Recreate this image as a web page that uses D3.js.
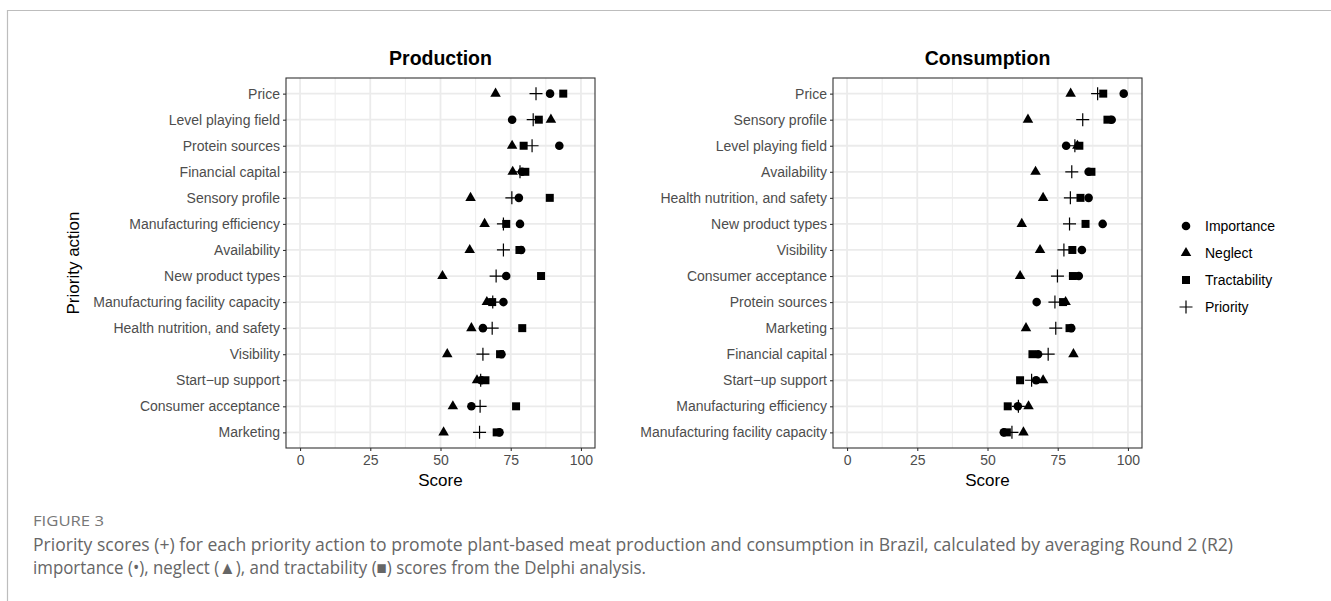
<!DOCTYPE html>
<html>
<head>
<meta charset="utf-8">
<script src="https://cdn.jsdelivr.net/npm/d3@7"></script>
<style>
  body { margin: 0; background: #fff; }
  svg { display: block; }
</style>
</head>
<body>
<div id="wrapper"></div>
<script>
// categories, top to bottom as in the figure
const prodActions = ['Price', 'Level playing field', 'Protein sources', 'Financial capital',
    'Sensory profile', 'Manufacturing efficiency', 'Availability', 'New product types',
    'Manufacturing facility capacity', 'Health nutrition, and safety', 'Visibility',
    'Start\u2212up support', 'Consumer acceptance', 'Marketing']
const prodImportance   = [89, 75.5, 92.3, 79, 77.9, 78.3, 78.7, 73.4, 72.4, 65.1, 71.7, 64.5, 61, 71]
const prodNeglect      = [69.6, 89.3, 75.5, 75.7, 60.7, 65.7, 60.4, 50.7, 66.5, 61, 52.4, 63, 54.4, 51.1]
const prodTractability = [93.7, 85, 79.6, 80.2, 88.9, 73.4, 78.1, 85.8, 68.4, 79.1, 71.2, 66, 76.9, 70]
const prodPriority     = [84, 83, 82.6, 78.3, 75.4, 72.4, 72.4, 69.8, 68.6, 68.4, 65.1, 64.3, 64.1, 63.9]

const consActions = ['Price', 'Sensory profile', 'Level playing field', 'Availability',
    'Health nutrition, and safety', 'New product types', 'Visibility', 'Consumer acceptance',
    'Protein sources', 'Marketing', 'Financial capital', 'Start\u2212up support',
    'Manufacturing efficiency', 'Manufacturing facility capacity']
const consImportance   = [98.5, 94.2, 78, 86, 86, 91, 83.6, 82.5, 67.5, 79.8, 68, 67.3, 60.8, 55.8]
const consNeglect      = [79.6, 64.4, 82, 67.1, 69.8, 62.2, 68.7, 61.6, 77.8, 63.7, 80.6, 69.8, 64.6, 62.8]
const consTractability = [91.2, 92.7, 82.7, 87, 83.1, 84.9, 80.2, 80.4, 76.9, 79.2, 66, 61.6, 57.2, 56.9]
const consPriority     = [89.2, 83.9, 81.1, 80, 79.5, 79.2, 77.2, 74.9, 74, 74.3, 71.6, 65.7, 61, 58.7]

const xTicks = [0, 25, 50, 75, 100]
const xMinor = [12.5, 37.5, 62.5, 87.5]
const seriesNames = ['Importance', 'Neglect', 'Tractability', 'Priority']

const width = 1331
const height = 601
const panel = { top: 78, width: 309, height: 370 }

const svg = d3.select('#wrapper').append('svg')
    .attr('width', width)
    .attr('height', height)
    .style('font-family', '"Liberation Sans", Arial, Helvetica, sans-serif')

// outer figure frame (top and left rules)
svg.append('line')
    .attr('x1', 7).attr('x2', width).attr('y1', 10.5).attr('y2', 10.5)
    .attr('stroke', '#bdbdbd').attr('stroke-width', 1.2)
svg.append('line')
    .attr('x1', 7.5).attr('x2', 7.5).attr('y1', 10).attr('y2', height)
    .attr('stroke', '#bdbdbd').attr('stroke-width', 1.2)

// symbol path for each series
const symbolPath = (name) => {
    if (name === 'Importance') return d3.symbol(d3.symbolCircle, 58)()
    if (name === 'Neglect') return d3.symbol(d3.symbolTriangle, 48)()
    if (name === 'Tractability') return d3.symbol(d3.symbolSquare, 64)()
    return 'M-6.5,0H6.5M0,-6.5V6.5'
}

function drawPanel (left, title, actions, series) {
    const xScale = d3.scaleLinear()
        .domain([-5, 105])
        .range([0, panel.width])
    const yScale = d3.scalePoint()
        .domain(actions)
        .range([0, panel.height])
        .padding(0.6)

    const bounds = svg.append('g')
        .attr('transform', `translate(${left}, ${panel.top})`)

    // minor vertical gridlines
    bounds.append('g')
        .selectAll('line')
        .data(xMinor)
        .join('line')
        .attr('x1', d => xScale(d)).attr('x2', d => xScale(d))
        .attr('y1', 0).attr('y2', panel.height)
        .attr('stroke', '#ebebeb').attr('stroke-width', 0.9)

    // major vertical gridlines
    bounds.append('g')
        .selectAll('line')
        .data(xTicks)
        .join('line')
        .attr('x1', d => xScale(d)).attr('x2', d => xScale(d))
        .attr('y1', 0).attr('y2', panel.height)
        .attr('stroke', '#ebebeb').attr('stroke-width', 1.8)

    // horizontal gridlines
    bounds.append('g')
        .selectAll('line')
        .data(actions)
        .join('line')
        .attr('x1', 0).attr('x2', panel.width)
        .attr('y1', d => yScale(d)).attr('y2', d => yScale(d))
        .attr('stroke', '#ebebeb').attr('stroke-width', 1.8)

    // points
    seriesNames.forEach((name, i) => {
        const values = series[i]
        const pts = bounds.append('g')
            .selectAll('path')
            .data(actions.map((a, j) => ({ action: a, value: values[j] })))
            .join('path')
            .attr('d', symbolPath(name))
            .attr('transform', d => `translate(${xScale(d.value)}, ${yScale(d.action)})`)
        if (name === 'Priority') {
            pts.attr('fill', 'none').attr('stroke', '#000').attr('stroke-width', 1.2)
        } else {
            pts.attr('fill', '#000')
        }
    })

    // panel border
    bounds.append('rect')
        .attr('x', 0).attr('y', 0)
        .attr('width', panel.width).attr('height', panel.height)
        .attr('fill', 'none')
        .attr('stroke', '#333').attr('stroke-width', 1.1)

    const xAxis = bounds.append('g')
        .attr('transform', `translate(0, ${panel.height})`)
        .call(d3.axisBottom(xScale).tickValues(xTicks).tickSize(3).tickPadding(3))
    const yAxis = bounds.append('g')
        .call(d3.axisLeft(yScale).tickSize(3).tickPadding(3))

    ;[xAxis, yAxis].forEach(ax => {
        ax.select('.domain').remove()
        ax.selectAll('.tick line').attr('stroke', '#333').attr('stroke-width', 1.1)
        ax.selectAll('.tick text')
            .attr('fill', '#4d4d4d')
            .style('font-size', '14px')
            .style('font-family', '"Liberation Sans", Arial, sans-serif')
    })
    xAxis.selectAll('.tick text').attr('dy', '0.8em')

    // title
    svg.append('text')
        .attr('x', left + panel.width / 2)
        .attr('y', 65)
        .attr('text-anchor', 'middle')
        .style('font-size', '19.5px')
        .style('font-weight', 'bold')
        .attr('fill', '#000')
        .text(title)

    // x axis title
    svg.append('text')
        .attr('x', left + panel.width / 2)
        .attr('y', 486)
        .attr('text-anchor', 'middle')
        .style('font-size', '17px')
        .attr('fill', '#000')
        .text('Score')
}

drawPanel(286, 'Production', prodActions,
    [prodImportance, prodNeglect, prodTractability, prodPriority])
drawPanel(833, 'Consumption', consActions,
    [consImportance, consNeglect, consTractability, consPriority])

// y axis title
svg.append('text')
    .attr('transform', 'translate(79, 263) rotate(-90)')
    .attr('text-anchor', 'middle')
    .style('font-size', '17px')
    .attr('fill', '#000')
    .text('Priority action')

// legend
const legend = svg.append('g')
    .attr('transform', 'translate(1186, 226)')
seriesNames.forEach((name, i) => {
    const row = legend.append('g').attr('transform', `translate(0, ${i * 27})`)
    const sym = row.append('path').attr('d', symbolPath(name))
    if (name === 'Priority') {
        sym.attr('fill', 'none').attr('stroke', '#000').attr('stroke-width', 1.2)
    } else {
        sym.attr('fill', '#000')
    }
    row.append('text')
        .attr('x', 19)
        .attr('dy', '0.35em')
        .style('font-size', '14px')
        .attr('fill', '#000')
        .text(name)
})

// caption
svg.append('text')
    .attr('x', 33)
    .attr('y', 526)
    .style('font-family', '"Open Sans", sans-serif')
    .style('font-size', '14.5px')
    .attr('fill', '#777')
    .attr('textLength', 71)
    .attr('lengthAdjust', 'spacingAndGlyphs')
    .text('FIGURE 3')

const captionLines = [
    'Priority scores (+) for each priority action to promote plant-based meat production and consumption in Brazil, calculated by averaging Round 2 (R2)',
    'importance (\u2022), neglect (\u25B2), and tractability (\u25A0) scores from the Delphi analysis.'
]
const captionWidths = [1200, 613]
captionLines.forEach((line, i) => {
    svg.append('text')
        .attr('x', 33)
        .attr('y', 551 + i * 23)
        .style('font-family', '"Open Sans", sans-serif')
        .style('font-size', '18px')
        .attr('fill', '#666')
        .attr('textLength', captionWidths[i])
        .attr('lengthAdjust', 'spacingAndGlyphs')
        .text(line)
})
</script>
</body>
</html>
